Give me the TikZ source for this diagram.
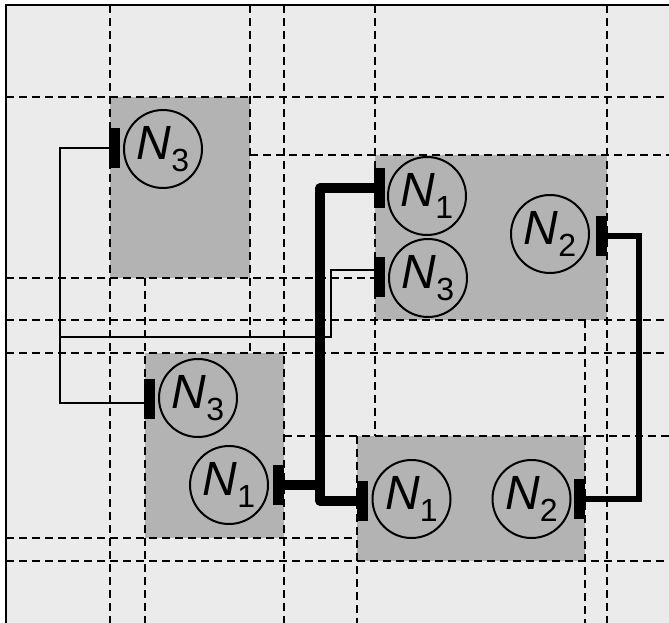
\documentclass[tikz,border=0pt]{standalone}
\usepackage{fontspec}
\setmainfont{Liberation Sans}
\definecolor{floorbg}{HTML}{EBEBEB}
\definecolor{blockbg}{HTML}{B3B3B3}
\newcommand{\netlbl}[2]{\textit{#1}\raisebox{-12pt}{\fontsize{32}{32}\selectfont #2}}

\begin{document}
\begin{tikzpicture}[
  x=1pt, y=-1pt,
  block/.style={fill=blockbg, inner sep=0pt, outer sep=0pt},
  cut/.style={line width=2.2pt, dash pattern=on 8pt off 5pt},
  pin/.style={fill=black, inner sep=0pt, outer sep=0pt,
              minimum width=11pt, minimum height=40pt},
  net/.style={draw, circle, line width=2pt, minimum size=78pt,
              inner sep=0pt, font=\fontsize{48}{48}\selectfont},
  thinw/.style={line width=2pt},
  busw/.style={line width=9.5pt, line join=round},
  midw/.style={line width=6.5pt},
]

\useasboundingbox (0,0) rectangle (669,623);
\clip (0,0) rectangle (669,623);
\fill[floorbg] (6,5) rectangle (680,640);

\node[block, minimum width=140pt, minimum height=181pt] (blkA) at (180,187.5) {};
\node[block, minimum width=232pt, minimum height=164.5pt] (blkB) at (491,237.25) {};
\node[block, minimum width=139pt, minimum height=185pt] (blkC) at (214.5,445.5) {};
\node[block, minimum width=228pt, minimum height=125pt] (blkD) at (471,498.5) {};

\draw[cut] (110,5) -- (110,623);
\draw[cut] (250,5) -- (250,353);
\draw[cut] (284,5) -- (284,623);
\draw[cut] (145,278) -- (145,623);
\draw[cut] (375,5) -- (375,436);
\draw[cut] (357,436) -- (357,623);
\draw[cut] (607,5) -- (607,623);
\draw[cut] (585,320) -- (585,623);
\draw[cut] (6,97) -- (669,97);
\draw[cut] (250,155) -- (669,155);
\draw[cut] (6,278) -- (375,278);
\draw[cut] (6,320) -- (669,320);
\draw[cut] (6,353) -- (669,353);
\draw[cut] (284,436) -- (669,436);
\draw[cut] (6,538) -- (357,538);
\draw[cut] (6,561) -- (669,561);

\draw[line width=2.5pt] (6,640) -- (6,5) -- (680,5);

\node[pin] (tA3) at (114.5,148) {};
\node[pin] (tB1) at (379.5,188) {};
\node[pin] (tB3) at (379.5,277) {};
\node[pin] (tB2) at (601.5,236) {};
\node[pin] (tC3) at (149.5,399) {};
\node[pin] (tC1) at (278.5,485) {};
\node[pin] (tD1) at (362,501) {};
\node[pin] (tD2) at (579.5,499) {};

\coordinate (jL) at (60,337);
\coordinate (jM) at (331,337);
\coordinate (jT) at (320,485);
\coordinate (jR) at (639,400);

\draw[thinw] (tA3.west) -| (jL) |- ([yshift=-4pt]tC3.west);
\draw[thinw] (jL) -- (jM) |- ([yshift=7pt]tB3.west);
\draw[busw] (tB1.west) -| (jT) |- (tD1.west);
\draw[busw] (tC1.east) -- (jT);
\draw[midw] (tB2.east) -| (jR) |- (tD2.east);

\node[net] (nA3) at (163,149) {\netlbl{N}{3}};
\node[net] (nB1) at (427,196) {\netlbl{N}{1}};
\node[net] (nB3) at (428,278) {\netlbl{N}{3}};
\node[net] (nB2) at (550,234) {\netlbl{N}{2}};
\node[net] (nC3) at (198,398) {\netlbl{N}{3}};
\node[net] (nC1) at (229,485) {\netlbl{N}{1}};
\node[net] (nD1) at (411.5,499) {\netlbl{N}{1}};
\node[net] (nD2) at (531.5,499) {\netlbl{N}{2}};

\end{tikzpicture}
\end{document}
